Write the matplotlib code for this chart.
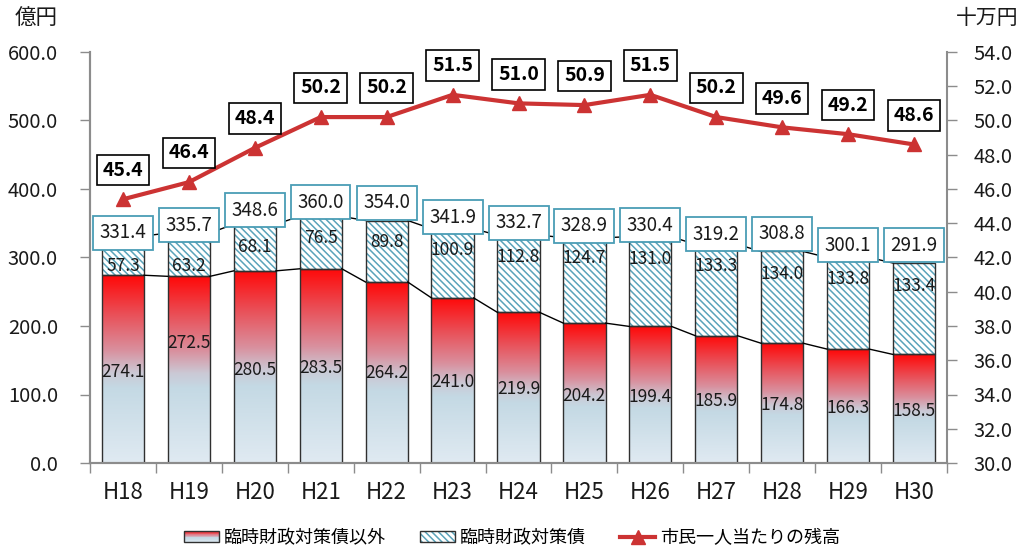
import numpy as np
import matplotlib
matplotlib.use("Agg")
import matplotlib.pyplot as plt
from matplotlib.colors import LinearSegmentedColormap
from matplotlib.patches import Rectangle, Patch
from matplotlib.lines import Line2D
from matplotlib.legend_handler import HandlerBase

plt.rcParams['font.family'] = ['Noto Sans CJK JP', 'DejaVu Sans']
plt.rcParams['hatch.linewidth'] = 1.1

# ---------------- data ----------------
categories = ['H18', 'H19', 'H20', 'H21', 'H22', 'H23', 'H24', 'H25', 'H26', 'H27', 'H28', 'H29', 'H30']
other_debt = [274.1, 272.5, 280.5, 283.5, 264.2, 241.0, 219.9, 204.2, 199.4, 185.9, 174.8, 166.3, 158.5]
temp_debt = [57.3, 63.2, 68.1, 76.5, 89.8, 100.9, 112.8, 124.7, 131.0, 133.3, 134.0, 133.8, 133.4]
totals = [331.4, 335.7, 348.6, 360.0, 354.0, 341.9, 332.7, 328.9, 330.4, 319.2, 308.8, 300.1, 291.9]
per_capita = [45.4, 46.4, 48.4, 50.2, 50.2, 51.5, 51.0, 50.9, 51.5, 50.2, 49.6, 49.2, 48.6]

# label anchor heights (data units of left axis), as placed in the original
other_label_y = [133.3, 174.7, 135.8, 138.2, 131.0, 118.7, 107.6, 97.8, 96.8, 91.0, 84.7, 79.8, 76.4]
temp_label_y = [287.6, 287.6, 315.8, 328.0, 322.2, 311.0, 300.3, 298.8, 297.8, 287.6, 275.9, 268.6, 258.9]
total_label_y = [335.8, 347.4, 369.3, 381.0, 379.6, 359.1, 350.4, 346.0, 347.4, 334.3, 334.7, 318.0, 318.0]

legend_labels = ['臨時財政対策債以外', '臨時財政対策債', '市民一人当たりの残高']

# ---------------- style ----------------
grad_cmap = LinearSegmentedColormap.from_list('g', [
    (0.0, '#e0eaf2'), (0.40, '#c4d9e4'), (0.48, '#cbc9d5'),
    (0.60, '#d9909e'), (0.80, '#ea4d55'), (1.0, '#ff0808')])
hatch_col = '#5aa3ba'
line_col = '#cc3333'
spine_col = '#8c8c8c'
txt_col = '#1a1a1a'
HATCH = '\\' * 5

fig = plt.figure(figsize=(10.27, 5.5), dpi=100)
ax = fig.add_axes([90 / 1027, (550 - 463) / 550, (947 - 90) / 1027, (463 - 52) / 550])
ax2 = ax.twinx()

x = np.arange(len(categories))
w = 0.64

# lower (gradient) segments
grad = np.linspace(0, 1, 256).reshape(-1, 1)
for xi, h in zip(x, other_debt):
    ax.imshow(grad, extent=(xi - w / 2, xi + w / 2, 0, h), origin='lower',
              cmap=grad_cmap, aspect='auto', zorder=2, interpolation='bilinear')
ax.bar(x, other_debt, w, facecolor='none', edgecolor='#303030', linewidth=1.0, zorder=3)

# upper (hatched) segments
ax.bar(x, temp_debt, w, bottom=other_debt, facecolor='white', edgecolor=hatch_col,
       hatch=HATCH, linewidth=0, zorder=2)
ax.bar(x, temp_debt, w, bottom=other_debt, facecolor='none', edgecolor='#303030',
       linewidth=1.0, zorder=3)

# series lines
for i in range(len(x) - 1):
    ax.plot([x[i] + w / 2, x[i + 1] - w / 2], [other_debt[i], other_debt[i + 1]],
            color='black', lw=1.0, zorder=3)
    ax.plot([x[i] + w / 2, x[i + 1] - w / 2], [totals[i], totals[i + 1]],
            color='black', lw=1.0, zorder=3)

# labels
for i in range(len(x)):
    ax.text(x[i], other_label_y[i], f'{other_debt[i]:.1f}', ha='center', va='center',
            fontsize=12.5, color=txt_col, zorder=5)
    ax.text(x[i], temp_label_y[i], f'{temp_debt[i]:.1f}', ha='center', va='center',
            fontsize=12.5, color=txt_col, zorder=5)
    ax.text(x[i], total_label_y[i], f'{totals[i]:.1f}', ha='center', va='center',
            fontsize=13.5, color=txt_col, zorder=6,
            bbox=dict(boxstyle='square,pad=0.35', facecolor='white', edgecolor='#4a9db5', lw=1.3))

ax.set_xlim(-0.5, len(x) - 0.5)
ax.set_ylim(0, 600)
ax.set_yticks(np.arange(0, 601, 100))
ax.set_yticklabels([f'{v:.1f}' for v in np.arange(0, 601, 100)])
ax.set_xticks(x)
ax.set_xticklabels(categories)
ax.set_xticks(np.arange(-0.5, len(x), 1), minor=True)
ax.tick_params(axis='x', which='major', length=0, labelsize=16, pad=13, colors=txt_col)
ax.tick_params(axis='x', which='minor', length=7, color=spine_col, width=1)
ax.tick_params(axis='y', length=7, color=spine_col, width=1, labelsize=14.5, pad=16, labelcolor=txt_col)

# line on secondary axis
ax2.plot(x, per_capita, color=line_col, lw=3, marker='^', markersize=10,
         markeredgecolor=line_col, zorder=4)
for i in range(len(x)):
    ax2.annotate(f'{per_capita[i]:.1f}', (x[i], per_capita[i]), xytext=(0, 21),
                 textcoords='offset points', ha='center', va='center', fontsize=14,
                 fontweight='bold', color='black', zorder=6,
                 bbox=dict(boxstyle='square,pad=0.3', facecolor='white', edgecolor='black', lw=1.2))
ax2.set_ylim(30, 54)
ax2.set_yticks(np.arange(30, 54.1, 2))
ax2.set_yticklabels([f'{v:.1f}' for v in np.arange(30, 54.1, 2)])
ax2.tick_params(axis='y', length=7, color=spine_col, width=1, labelsize=14.5, pad=12, labelcolor=txt_col)

for a in (ax, ax2):
    a.spines['top'].set_visible(False)
    for s in ('left', 'right', 'bottom'):
        a.spines[s].set_color(spine_col)
        a.spines[s].set_linewidth(1.5)
ax.spines['right'].set_visible(False)

fig.text(36 / 1027, 1 - 19 / 550, '億円', ha='center', va='center', fontsize=15.5, color=txt_col)
fig.text(987 / 1027, 1 - 18 / 550, '十万円', ha='center', va='center', fontsize=15, color=txt_col)


# legend
class GradHandler(HandlerBase):
    def create_artists(self, legend, orig_handle, xdescent, ydescent, width, height, fontsize, trans):
        arts = []
        n = 16
        for k in range(n):
            f = (k + 0.5) / n
            arts.append(Rectangle((-xdescent, -ydescent + k * height / n), width, height / n,
                                  facecolor=grad_cmap(f), edgecolor='none', transform=trans))
        arts.append(Rectangle((-xdescent, -ydescent), width, height, facecolor='none',
                              edgecolor='#303030', lw=1.0, transform=trans))
        return arts


class HatchHandler(HandlerBase):
    def create_artists(self, legend, orig_handle, xdescent, ydescent, width, height, fontsize, trans):
        r1 = Rectangle((-xdescent, -ydescent), width, height, facecolor='white',
                       edgecolor=hatch_col, hatch=HATCH, lw=0, transform=trans)
        r2 = Rectangle((-xdescent, -ydescent), width, height, facecolor='none',
                       edgecolor='#303030', lw=1.0, transform=trans)
        return [r1, r2]


h1 = Patch(label=legend_labels[0])
h2 = Patch(label=legend_labels[1])
h3 = Line2D([], [], color=line_col, lw=3, marker='^', markersize=10, label=legend_labels[2])
fig.legend([h1, h2, h3], legend_labels, loc='center', bbox_to_anchor=(512 / 1027, 1 - 538 / 550),
           ncol=3, frameon=False, fontsize=13, handlelength=1.95, handleheight=0.6,
           handletextpad=0.25, columnspacing=1.9,
           handler_map={h1: GradHandler(), h2: HatchHandler()})

fig.savefig('out.png', dpi=100)
